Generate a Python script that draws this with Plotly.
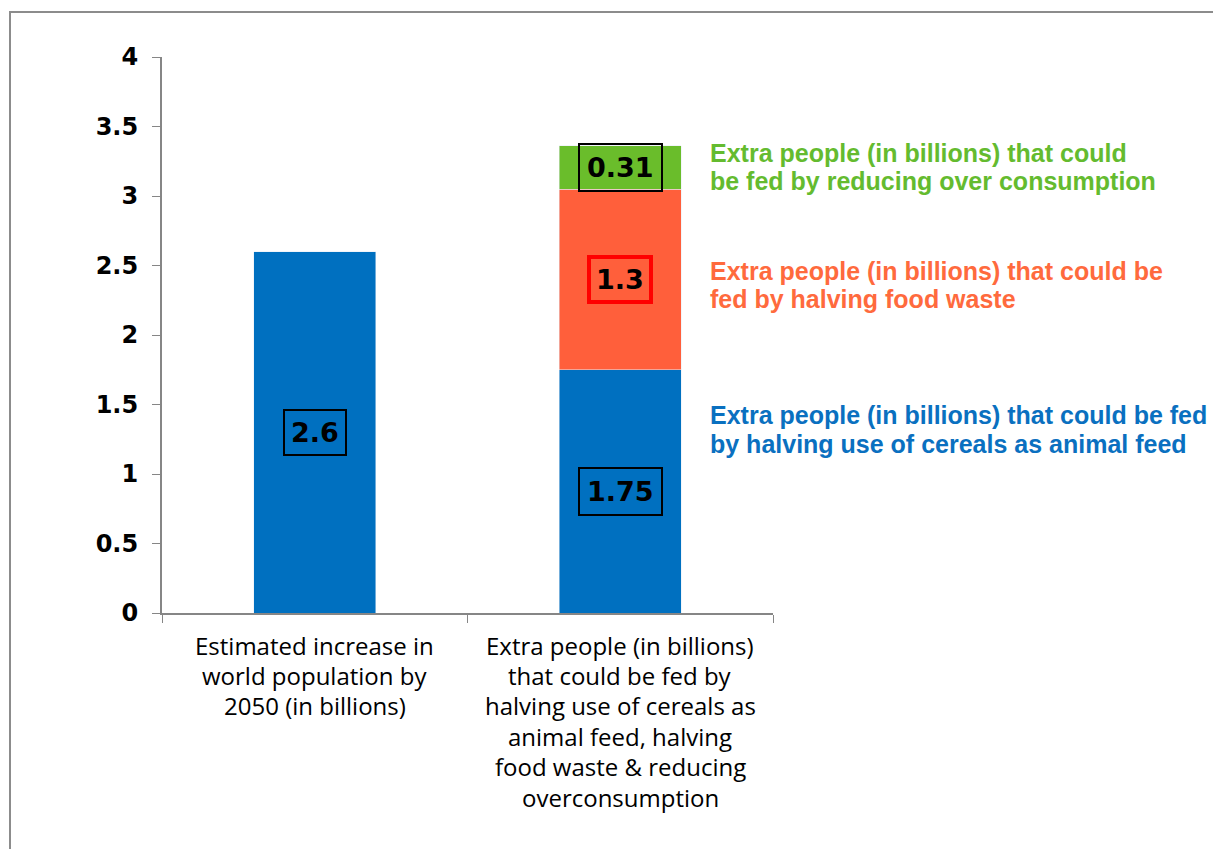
import plotly.graph_objects as go

categories = ["Estimated increase in world population by 2050 (in billions)",
              "Extra people (in billions) that could be fed by halving use of cereals as animal feed, halving food waste & reducing overconsumption"]
category_lines = [
    ["Estimated increase in", "world population by", "2050 (in billions)"],
    ["Extra people (in billions)", "that could be fed by", "halving use of cereals as",
     "animal feed, halving", "food waste &amp; reducing", "overconsumption"],
]
population = [2.6, None]
cereals = [None, 1.75]
waste = [None, 1.3]
overcons = [None, 0.31]

blue = "#0070C0"
orange = "#FF5F3B"
green = "#6ABD2B"

# plot area (figure px): left 154, top 49, width 611, height 556
L, T, W, H = 154, 49, 611, 556
FW, FH = 1213, 841


def px_x(x):
    return (x - 8 - L) / W


def px_y(y):
    return (T + H - (y - 8)) / H


fig = go.Figure()
fig.add_bar(x=categories, y=population, marker_color=blue, width=0.4)
fig.add_bar(x=categories, y=cereals, marker_color=blue, width=0.4)
fig.add_bar(x=categories, y=waste, marker_color=orange, width=0.4)
fig.add_bar(x=categories, y=overcons, marker_color=green, width=0.4)

# value labels (boxed)
val_font = dict(family="DejaVu Sans", size=27, color="black", weight="bold")
fig.add_annotation(x=categories[0], y=population[0] / 2, text="2.6", showarrow=False,
                   font=val_font, bordercolor="black", borderwidth=2, borderpad=6)
fig.add_annotation(x=categories[1], y=cereals[1] / 2, text="1.75", showarrow=False,
                   font=val_font, bordercolor="black", borderwidth=2, borderpad=7)
fig.add_annotation(x=categories[1], y=cereals[1] + waste[1] / 2, text="1.3", showarrow=False,
                   font=val_font, bordercolor="#FF0000", borderwidth=4, borderpad=5)
fig.add_annotation(x=categories[1], y=cereals[1] + waste[1] + overcons[1] / 2, text="0.31",
                   showarrow=False, font=val_font, bordercolor="black", borderwidth=2, borderpad=7)

# category labels, one line each
cat_line_y = [645, 675, 705, 736, 766, 797]
for cat, lines in zip(categories, category_lines):
    for i, line in enumerate(lines):
        fig.add_annotation(x=cat, xref="x", yref="paper", y=px_y(cat_line_y[i]), text=line,
                           showarrow=False, xanchor="center", yanchor="middle",
                           font=dict(family="Open Sans", size=24, color="black"))

# side labels
side = [
    (["Extra people (in billions) that could", "be fed by reducing over consumption"], "#64BB2F", [153, 181]),
    (["Extra people (in billions) that could be", "fed by halving food waste"], "#FF6A3D", [271, 299]),
    (["Extra people (in billions) that could be fed", "by halving use of cereals as animal feed"], "#0A70C0", [415, 444]),
]
for lines, col, ys in side:
    for line, yy in zip(lines, ys):
        fig.add_annotation(xref="paper", yref="paper", x=px_x(708), y=px_y(yy), text=line,
                           showarrow=False, xanchor="left", yanchor="middle", align="left",
                           font=dict(family="Liberation Sans", size=25, color=col, weight="bold"))

# outer frame
fig.add_shape(type="rect", xref="paper", yref="paper",
              x0=px_x(10), x1=px_x(1217), y0=px_y(880), y1=px_y(12),
              line=dict(color="#8C8C8C", width=2), fillcolor="rgba(0,0,0,0)", layer="below")

fig.update_layout(
    width=FW, height=FH,
    margin=dict(l=L, r=FW - L - W, t=T, b=FH - T - H),
    barmode="stack", showlegend=False,
    plot_bgcolor="white", paper_bgcolor="white",
    xaxis=dict(type="category", tickson="boundaries", ticks="outside", ticklen=8,
               tickcolor="#868686", showline=True, linecolor="#868686", linewidth=2,
               showgrid=False, showticklabels=False),
    yaxis=dict(range=[0, 4], dtick=0.5, ticks="outside", ticklen=8, tickcolor="#868686",
               showline=True, linecolor="#868686", linewidth=2, showgrid=False, zeroline=False,
               ticklabelstandoff=9,
               tickfont=dict(family="DejaVu Sans", size=24, color="black", weight="bold")),
)

fig.write_html("out.html")
